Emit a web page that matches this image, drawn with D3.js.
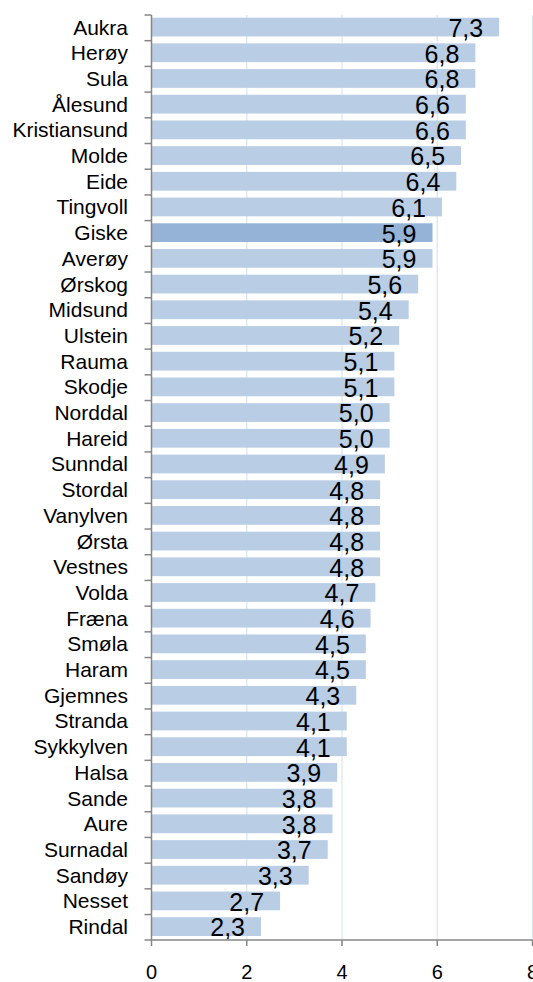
<!DOCTYPE html>
<html>
<head>
<meta charset="utf-8">
<script src="https://cdn.jsdelivr.net/npm/d3@7"></script>
<style>
  body { margin: 0; background: #fff; }
  text { font-family: "Liberation Sans", Arial, sans-serif; fill: #000; }
</style>
</head>
<body>
<script>
// data
const municipalities = ["Aukra", "Herøy", "Sula", "Ålesund", "Kristiansund", "Molde", "Eide", "Tingvoll",
  "Giske", "Averøy", "Ørskog", "Midsund", "Ulstein", "Rauma", "Skodje", "Norddal", "Hareid", "Sunndal",
  "Stordal", "Vanylven", "Ørsta", "Vestnes", "Volda", "Fræna", "Smøla", "Haram", "Gjemnes", "Stranda",
  "Sykkylven", "Halsa", "Sande", "Aure", "Surnadal", "Sandøy", "Nesset", "Rindal"];
const values = [7.3, 6.8, 6.8, 6.6, 6.6, 6.5, 6.4, 6.1,
  5.9, 5.9, 5.6, 5.4, 5.2, 5.1, 5.1, 5.0, 5.0, 4.9,
  4.8, 4.8, 4.8, 4.8, 4.7, 4.6, 4.5, 4.5, 4.3, 4.1,
  4.1, 3.9, 3.8, 3.8, 3.7, 3.3, 2.7, 2.3];
const xTicks = [0, 2, 4, 6, 8];
const highlighted = "Giske";

const data = municipalities.map((name, i) => ({ name: name, value: values[i] }));

// dimensions
const W = 533, H = 982;
const plot = { left: 151.5, right: 532.5, top: 15, bottom: 940 };

const svg = d3.select("body")
  .append("svg")
    .attr("width", W)
    .attr("height", H);

const x = d3.scaleLinear()
    .domain([0, 8])
    .range([plot.left, plot.right]);

const y = d3.scaleBand()
    .domain(municipalities)
    .range([plot.top, plot.bottom])
    .paddingInner(0.27)
    .paddingOuter(0.13)
    .align(0.4);

// vertical gridlines
svg.append("g")
  .selectAll("line")
  .data(xTicks.filter(d => d > 0))
  .enter()
  .append("line")
    .attr("x1", d => x(d))
    .attr("x2", d => x(d))
    .attr("y1", plot.top)
    .attr("y2", plot.bottom)
    .attr("stroke", "#dce6f2")
    .attr("stroke-width", 1.3);

// bars
svg.append("g")
  .selectAll("rect")
  .data(data)
  .enter()
  .append("rect")
    .attr("x", x(0))
    .attr("y", d => y(d.name))
    .attr("width", d => x(d.value) - x(0))
    .attr("height", y.bandwidth())
    .attr("fill", d => d.name === highlighted ? "#95b3d7" : "#b9cde5");

// value labels
svg.append("g")
  .selectAll("text")
  .data(data)
  .enter()
  .append("text")
    .attr("x", d => x(d.value) - 16)
    .attr("y", d => y(d.name) + y.bandwidth() + 0.5)
    .attr("text-anchor", "end")
    .attr("font-size", "25px")
    .text(d => d3.format(".1f")(d.value).replace(".", ","));

// y axis: line + ticks at band boundaries
const boundaries = municipalities.map((d, i) => plot.top + i * y.step()).concat([plot.bottom]);
const yAxis = svg.append("g");
yAxis.append("line")
    .attr("x1", plot.left).attr("x2", plot.left)
    .attr("y1", plot.top).attr("y2", plot.bottom)
    .attr("stroke", "#868686")
    .attr("stroke-width", 1.5);
yAxis.selectAll("line.tick")
  .data(boundaries)
  .enter()
  .append("line")
    .attr("class", "tick")
    .attr("x1", plot.left - 7).attr("x2", plot.left)
    .attr("y1", d => d).attr("y2", d => d)
    .attr("stroke", "#868686")
    .attr("stroke-width", 1.5);
yAxis.selectAll("text")
  .data(municipalities)
  .enter()
  .append("text")
    .attr("x", 128)
    .attr("y", d => y(d) + y.bandwidth() / 2 + 7.5)
    .attr("text-anchor", "end")
    .attr("font-size", "21px")
    .text(d => d);

// x axis
const xAxis = svg.append("g");
xAxis.append("line")
    .attr("x1", plot.left).attr("x2", plot.right)
    .attr("y1", plot.bottom).attr("y2", plot.bottom)
    .attr("stroke", "#868686")
    .attr("stroke-width", 1.5);
xAxis.selectAll("line.tick")
  .data(xTicks)
  .enter()
  .append("line")
    .attr("class", "tick")
    .attr("x1", d => x(d)).attr("x2", d => x(d))
    .attr("y1", plot.bottom).attr("y2", plot.bottom + 6)
    .attr("stroke", "#868686")
    .attr("stroke-width", 1.5);
xAxis.selectAll("text")
  .data(xTicks)
  .enter()
  .append("text")
    .attr("x", d => x(d))
    .attr("y", 979)
    .attr("text-anchor", "middle")
    .attr("font-size", "20px")
    .text(d => d);
</script>
</body>
</html>
